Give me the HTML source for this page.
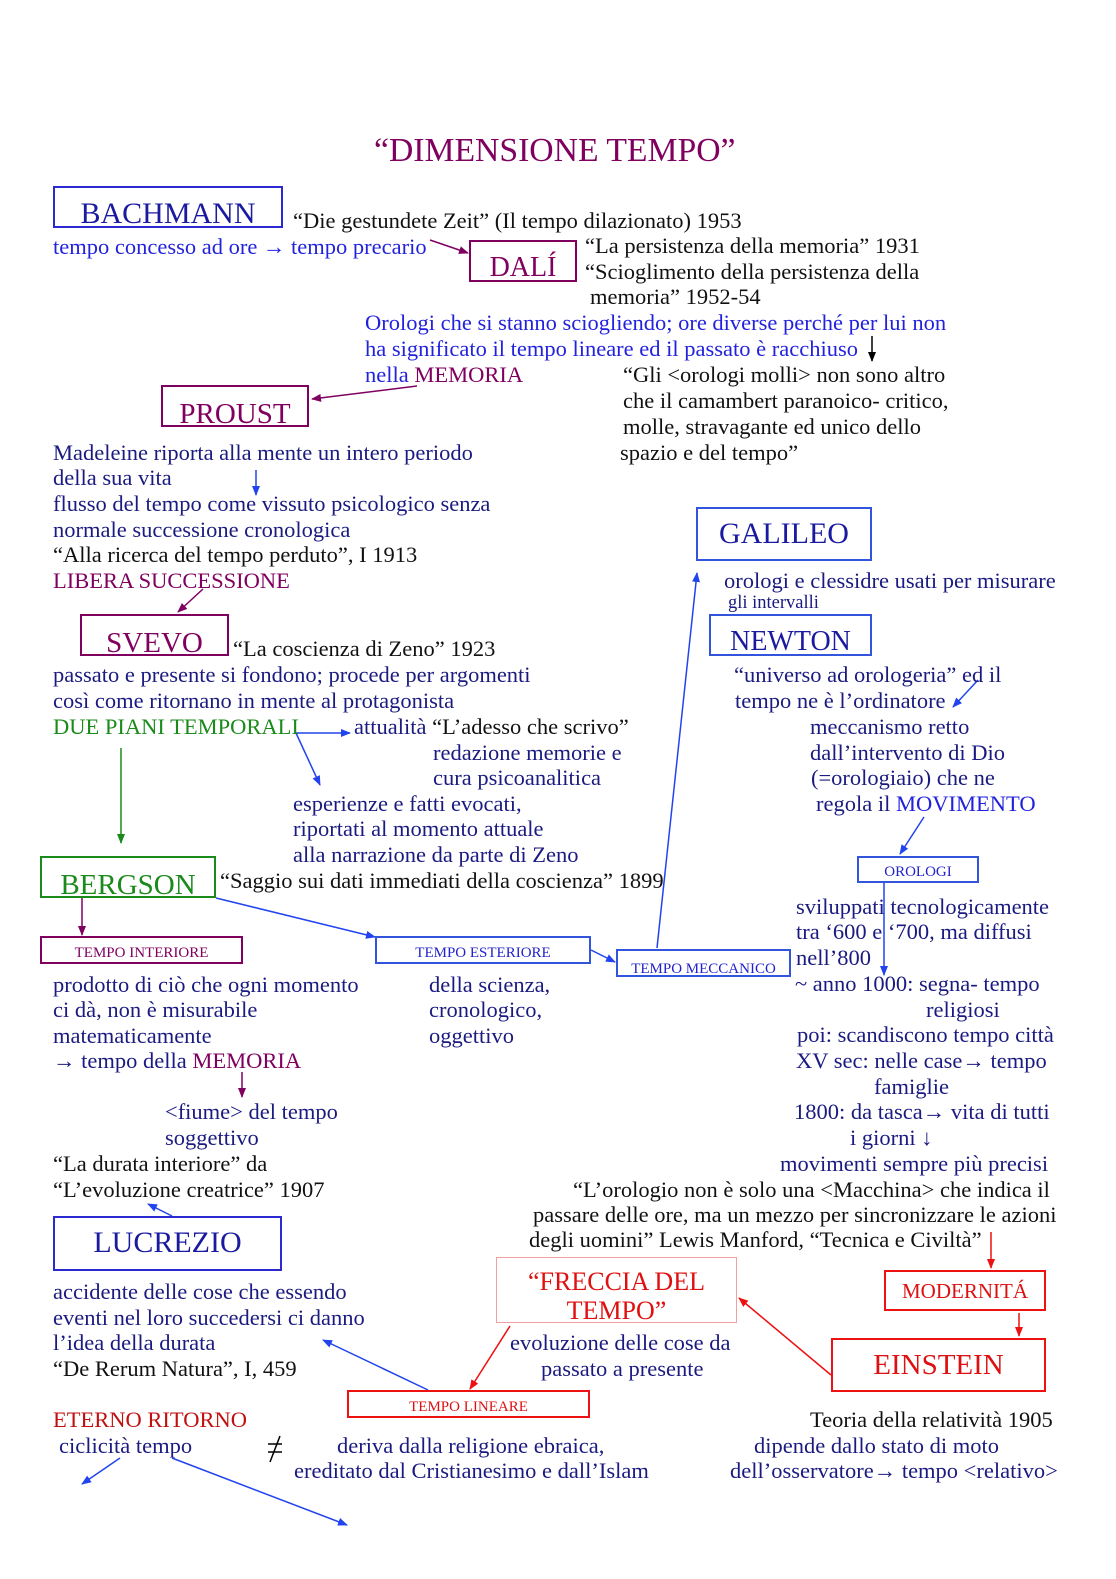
<!DOCTYPE html>
<html><head><meta charset="utf-8"><style>
body{margin:0;background:#fff;}
#p{position:relative;width:1116px;height:1579px;overflow:hidden;font-family:"Liberation Serif",serif;font-size:22.5px;color:#1a1a80;}
.t{position:absolute;white-space:nowrap;line-height:26px;}
.b{position:absolute;box-sizing:border-box;border:2px solid #3355dd;text-align:center;white-space:nowrap;}
.k{color:#111;} .pu{color:#800060;} .bl{color:#2222dd;} .g{color:#1a8a1a;} .r{color:#dd1111;}
</style></head><body><div id="p">
<svg width="1116" height="1579" style="position:absolute;left:0;top:0">
<defs>
<marker id="ab" markerWidth="10" markerHeight="8" refX="9" refY="4" orient="auto" markerUnits="userSpaceOnUse"><path d="M0,0L10,4L0,8z" fill="#2244ee"/></marker>
<marker id="ap" markerWidth="10" markerHeight="8" refX="9" refY="4" orient="auto" markerUnits="userSpaceOnUse"><path d="M0,0L10,4L0,8z" fill="#800060"/></marker>
<marker id="ak" markerWidth="10" markerHeight="8" refX="9" refY="4" orient="auto" markerUnits="userSpaceOnUse"><path d="M0,0L10,4L0,8z" fill="#000"/></marker>
<marker id="ag" markerWidth="10" markerHeight="8" refX="9" refY="4" orient="auto" markerUnits="userSpaceOnUse"><path d="M0,0L10,4L0,8z" fill="#1a8a1a"/></marker>
<marker id="ar" markerWidth="10" markerHeight="8" refX="9" refY="4" orient="auto" markerUnits="userSpaceOnUse"><path d="M0,0L10,4L0,8z" fill="#ee1111"/></marker>
</defs>
<g stroke-width="1.5" fill="none">
<line x1="430" y1="240" x2="468" y2="253" stroke="#800060" marker-end="url(#ap)"/>
<line x1="417" y1="386" x2="312" y2="399" stroke="#800060" marker-end="url(#ap)"/>
<line x1="872" y1="336" x2="872" y2="361" stroke="#000" marker-end="url(#ak)"/>
<line x1="256" y1="470" x2="256" y2="495" stroke="#2244ee" marker-end="url(#ab)"/>
<line x1="203" y1="589" x2="178" y2="612" stroke="#800060" marker-end="url(#ap)"/>
<line x1="296" y1="733" x2="350" y2="733" stroke="#2244ee" marker-end="url(#ab)"/>
<line x1="296" y1="733" x2="320" y2="785" stroke="#2244ee" marker-end="url(#ab)"/>
<line x1="121" y1="748" x2="121" y2="843" stroke="#1a8a1a" marker-end="url(#ag)"/>
<line x1="82" y1="898" x2="82" y2="935" stroke="#800060" marker-end="url(#ap)"/>
<line x1="216" y1="898" x2="375" y2="937" stroke="#2244ee" marker-end="url(#ab)"/>
<line x1="591" y1="950" x2="615" y2="962" stroke="#2244ee" marker-end="url(#ab)"/>
<line x1="657" y1="948" x2="697" y2="573" stroke="#2244ee" marker-end="url(#ab)"/>
<line x1="978" y1="680" x2="953" y2="707" stroke="#2244ee" marker-end="url(#ab)"/>
<line x1="924" y1="817" x2="900" y2="854" stroke="#2244ee" marker-end="url(#ab)"/>
<line x1="884" y1="883" x2="884" y2="975" stroke="#2244ee" marker-end="url(#ab)"/>
<line x1="242" y1="1072" x2="242" y2="1097" stroke="#800060" marker-end="url(#ap)"/>
<line x1="172" y1="1216" x2="148" y2="1204" stroke="#2244ee" marker-end="url(#ab)"/>
<line x1="991" y1="1232" x2="991" y2="1268" stroke="#ee1111" marker-end="url(#ar)"/>
<line x1="1019" y1="1313" x2="1019" y2="1336" stroke="#ee1111" marker-end="url(#ar)"/>
<line x1="831" y1="1375" x2="739" y2="1298" stroke="#ee1111" marker-end="url(#ar)"/>
<line x1="510" y1="1326" x2="470" y2="1389" stroke="#ee1111" marker-end="url(#ar)"/>
<line x1="428" y1="1390" x2="323" y2="1340" stroke="#2244ee" marker-end="url(#ab)"/>
<line x1="120" y1="1458" x2="82" y2="1484" stroke="#2244ee" marker-end="url(#ab)"/>
<line x1="172" y1="1458" x2="347" y2="1525" stroke="#2244ee" marker-end="url(#ab)"/>
<line x1="268" y1="1444" x2="282" y2="1444" stroke="#000"/>
<line x1="268" y1="1452" x2="282" y2="1452" stroke="#000"/>
<line x1="280" y1="1436" x2="270" y2="1462" stroke="#000"/>
</g></svg>

<div class="t pu" style="left:374px;top:132px;font-size:33.7px;line-height:38px">“DIMENSIONE TEMPO”</div>

<div class="b" style="left:53px;top:186px;width:230px;height:42px;border-color:#2a2ad0;font-size:30px;line-height:52px;overflow:hidden;color:#1a1aa0">BACHMANN</div>
<div class="b" style="left:469px;top:240px;width:108px;height:42px;border-color:#800060;color:#800060;font-size:28px;line-height:52px;overflow:hidden">DALÍ</div>
<div class="b" style="left:161px;top:385px;width:148px;height:42px;border-color:#800060;color:#800060;font-size:29px;line-height:54px;overflow:hidden">PROUST</div>
<div class="b" style="left:80px;top:614px;width:149px;height:42px;border-color:#800060;color:#800060;font-size:29px;line-height:54px;overflow:hidden">SVEVO</div>
<div class="b" style="left:40px;top:856px;width:176px;height:42px;border-color:#1a8a1a;color:#1a8a1a;font-size:29px;line-height:54px;overflow:hidden">BERGSON</div>
<div class="b" style="left:40px;top:936px;width:203px;height:28px;border-color:#800060;color:#800060;font-size:15px;line-height:30px">TEMPO INTERIORE</div>
<div class="b" style="left:375px;top:936px;width:216px;height:28px;font-size:15px;line-height:30px;color:#2222cc">TEMPO ESTERIORE</div>
<div class="b" style="left:616px;top:949px;width:175px;height:28px;font-size:15px;line-height:36px;overflow:hidden;color:#2222cc">TEMPO MECCANICO</div>
<div class="b" style="left:696px;top:507px;width:176px;height:54px;font-size:30px;line-height:50px;color:#1a1aa0">GALILEO</div>
<div class="b" style="left:709px;top:614px;width:163px;height:42px;font-size:28px;line-height:52px;overflow:hidden;color:#1a1aa0">NEWTON</div>
<div class="b" style="left:857px;top:856px;width:122px;height:27px;font-size:15px;line-height:28px;color:#2222cc">OROLOGI</div>
<div class="b" style="left:53px;top:1216px;width:229px;height:55px;border-color:#2a2ad0;font-size:30px;line-height:50px;color:#1a1aa0">LUCREZIO</div>
<div class="b" style="left:496px;top:1257px;width:241px;height:66px;border:1px solid #f0a0a0;color:#e01010;font-size:26px;line-height:29px;padding-top:9px;overflow:hidden">“FRECCIA DEL<br>TEMPO”</div>
<div class="b" style="left:884px;top:1270px;width:162px;height:41px;border-color:#ee1111;color:#dd1111;font-size:21px;line-height:38px">MODERNITÁ</div>
<div class="b" style="left:831px;top:1338px;width:215px;height:54px;border-color:#ee1111;color:#dd1111;font-size:29px;line-height:50px">EINSTEIN</div>
<div class="b" style="left:347px;top:1390px;width:243px;height:28px;border-color:#ee1111;color:#dd1111;font-size:15px;line-height:30px">TEMPO LINEARE</div>

<div class="t k" style="left:293px;top:208px">“Die gestundete Zeit” (Il tempo dilazionato) 1953</div>
<div class="t bl" style="left:53px;top:234px">tempo concesso ad ore → tempo precario</div>
<div class="t k" style="left:585px;top:233px">“La persistenza della memoria” 1931</div>
<div class="t k" style="left:585px;top:259px">“Scioglimento della persistenza della</div>
<div class="t k" style="left:590px;top:284px">memoria” 1952-54</div>
<div class="t bl" style="left:365px;top:310px">Orologi che si stanno sciogliendo; ore diverse perché per lui non</div>
<div class="t bl" style="left:365px;top:336px">ha significato il tempo lineare ed il passato è racchiuso</div>
<div class="t bl" style="left:365px;top:362px">nella <span class="pu">MEMORIA</span></div>
<div class="t k" style="left:623px;top:362px">“Gli &lt;orologi molli&gt; non sono altro</div>
<div class="t k" style="left:623px;top:388px">che il camambert paranoico- critico,</div>
<div class="t k" style="left:623px;top:414px">molle, stravagante ed unico dello</div>
<div class="t k" style="left:620px;top:440px">spazio e del tempo”</div>
<div class="t" style="left:53px;top:440px">Madeleine riporta alla mente un intero periodo</div>
<div class="t" style="left:53px;top:465px">della sua vita</div>
<div class="t" style="left:53px;top:491px">flusso del tempo come vissuto psicologico senza</div>
<div class="t" style="left:53px;top:517px">normale successione cronologica</div>
<div class="t k" style="left:53px;top:542px">“Alla ricerca del tempo perduto”, I 1913</div>
<div class="t pu" style="left:53px;top:568px">LIBERA SUCCESSIONE</div>
<div class="t k" style="left:233px;top:636px">“La coscienza di Zeno” 1923</div>
<div class="t" style="left:53px;top:662px">passato e presente si fondono; procede per argomenti</div>
<div class="t" style="left:53px;top:688px">così come ritornano in mente al protagonista</div>
<div class="t g" style="left:53px;top:714px">DUE PIANI TEMPORALI</div>
<div class="t" style="left:354px;top:714px">attualità <span class="k">“L’adesso che scrivo”</span></div>
<div class="t" style="left:433px;top:740px">redazione memorie e</div>
<div class="t" style="left:433px;top:765px">cura psicoanalitica</div>
<div class="t" style="left:293px;top:791px">esperienze e fatti evocati,</div>
<div class="t" style="left:293px;top:816px">riportati al momento attuale</div>
<div class="t" style="left:293px;top:842px">alla narrazione da parte di Zeno</div>
<div class="t k" style="left:220px;top:868px">“Saggio sui dati immediati della coscienza” 1899</div>
<div class="t" style="left:53px;top:972px">prodotto di ciò che ogni momento</div>
<div class="t" style="left:53px;top:997px">ci dà, non è misurabile</div>
<div class="t" style="left:53px;top:1023px">matematicamente</div>
<div class="t" style="left:53px;top:1048px">→ tempo della <span class="pu">MEMORIA</span></div>
<div class="t" style="left:165px;top:1099px">&lt;fiume&gt; del tempo</div>
<div class="t" style="left:165px;top:1125px">soggettivo</div>
<div class="t k" style="left:53px;top:1151px">“La durata interiore” da</div>
<div class="t k" style="left:53px;top:1177px">“L’evoluzione creatrice” 1907</div>
<div class="t" style="left:429px;top:972px">della scienza,</div>
<div class="t" style="left:429px;top:997px">cronologico,</div>
<div class="t" style="left:429px;top:1023px">oggettivo</div>
<div class="t" style="left:724px;top:568px">orologi e clessidre usati per misurare</div>
<div class="t" style="left:728px;top:592px;font-size:18.5px;line-height:22px">gli intervalli</div>
<div class="t" style="left:734px;top:662px">“universo ad orologeria” ed il</div>
<div class="t" style="left:735px;top:688px">tempo ne è l’ordinatore</div>
<div class="t" style="left:810px;top:714px">meccanismo retto</div>
<div class="t" style="left:810px;top:740px">dall’intervento di Dio</div>
<div class="t" style="left:811px;top:765px">(=orologiaio) che ne</div>
<div class="t" style="left:816px;top:791px">regola il <span class="bl">MOVIMENTO</span></div>
<div class="t" style="left:796px;top:894px">sviluppati tecnologicamente</div>
<div class="t" style="left:796px;top:919px">tra ‘600 e ‘700, ma diffusi</div>
<div class="t" style="left:796px;top:945px">nell’800</div>
<div class="t" style="left:795px;top:971px">~ anno 1000: segna- tempo</div>
<div class="t" style="left:926px;top:997px">religiosi</div>
<div class="t" style="left:797px;top:1022px">poi: scandiscono tempo città</div>
<div class="t" style="left:796px;top:1048px">XV sec: nelle case→ tempo</div>
<div class="t" style="left:874px;top:1074px">famiglie</div>
<div class="t" style="left:794px;top:1099px">1800: da tasca→ vita di tutti</div>
<div class="t" style="left:850px;top:1125px">i giorni ↓</div>
<div class="t" style="left:780px;top:1151px">movimenti sempre più precisi</div>
<div class="t k" style="left:573px;top:1177px">“L’orologio non è solo una &lt;Macchina&gt; che indica il</div>
<div class="t k" style="left:533px;top:1202px">passare delle ore, ma un mezzo per sincronizzare le azioni</div>
<div class="t k" style="left:529px;top:1227px">degli uomini” Lewis Manford, “Tecnica e Civiltà”</div>
<div class="t" style="left:53px;top:1279px">accidente delle cose che essendo</div>
<div class="t" style="left:53px;top:1305px">eventi nel loro succedersi ci danno</div>
<div class="t" style="left:53px;top:1330px">l’idea della durata</div>
<div class="t k" style="left:53px;top:1356px">“De Rerum Natura”, I, 459</div>
<div class="t" style="left:510px;top:1330px">evoluzione delle cose da</div>
<div class="t" style="left:541px;top:1356px">passato a presente</div>
<div class="t r" style="left:53px;top:1407px;color:#c01010">ETERNO RITORNO</div>
<div class="t" style="left:59px;top:1433px">ciclicità tempo</div>
<div class="t" style="left:337px;top:1433px">deriva dalla religione ebraica,</div>
<div class="t" style="left:294px;top:1458px">ereditato dal Cristianesimo e dall’Islam</div>
<div class="t k" style="left:810px;top:1407px">Teoria della relatività 1905</div>
<div class="t" style="left:754px;top:1433px">dipende dallo stato di moto</div>
<div class="t" style="left:730px;top:1458px">dell’osservatore→ tempo &lt;relativo&gt;</div>
</div></body></html>
